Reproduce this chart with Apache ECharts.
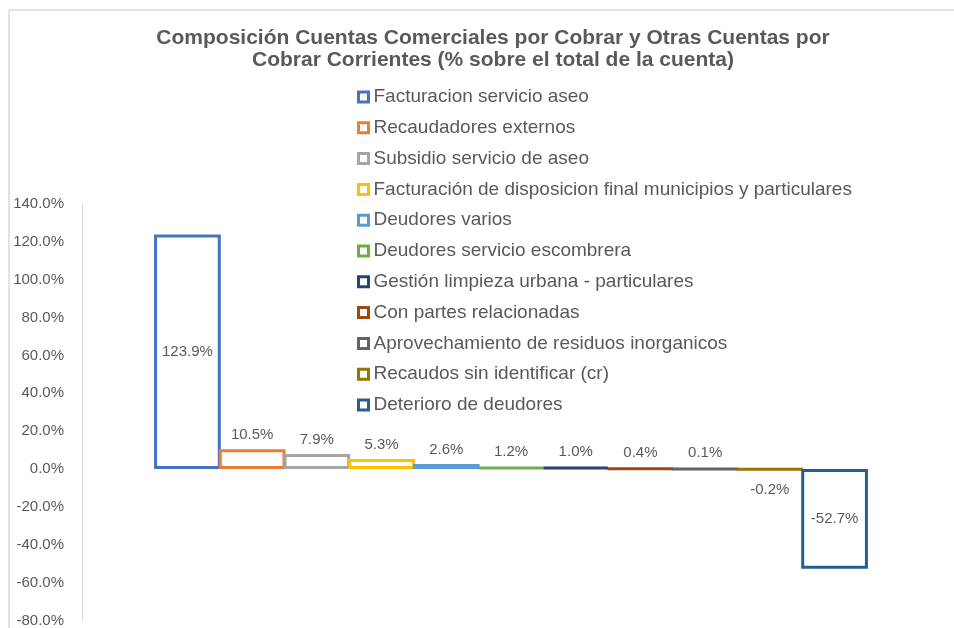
<!DOCTYPE html>
<html>
<head>
<meta charset="utf-8">
<script src="https://cdn.jsdelivr.net/npm/echarts@6/dist/echarts.min.js"></script>
<style>
  html, body { margin: 0; padding: 0; background: #fff; }
  #chart { width: 954px; height: 628px; }
</style>
</head>
<body>
<div id="chart"></div>
<script>
// nombres de cada serie (una barra por serie)
const seriesNames = [
  'Facturacion servicio aseo',
  'Recaudadores externos',
  'Subsidio servicio de aseo',
  'Facturación de disposicion final municipios y particulares',
  'Deudores varios',
  'Deudores servicio escombrera',
  'Gestión limpieza urbana - particulares',
  'Con partes relacionadas',
  'Aprovechamiento de residuos inorganicos',
  'Recaudos sin identificar (cr)',
  'Deterioro de deudores'
];
const seriesValues = [123.9, 10.5, 7.9, 5.3, 2.6, 1.2, 1.0, 0.4, 0.1, -0.2, -52.7];
const seriesColors = ['#4472C4', '#ED7D31', '#A5A5A5', '#FFC000', '#5B9BD5', '#70AD47',
  '#264478', '#9E480E', '#636363', '#997300', '#255E91'];
// etiquetas que van dentro de la barra
const insideLabels = [0, 10];
const yTicks = { min: -80, max: 140, interval: 20 };

const textColor = '#595959';
const font = 'Liberation Sans, Arial, sans-serif';

const series = seriesNames.map((name, i) => {
  const v = seriesValues[i];
  let pos = v < 0 ? 'bottom' : 'top';
  if (insideLabels.indexOf(i) >= 0) pos = 'inside';
  return {
    name,
    type: 'bar',
    barGap: '-3%',
    barCategoryGap: '16.8%',
    data: [v],
    itemStyle: {
      color: 'rgba(255,255,255,0)',
      borderColor: seriesColors[i],
      borderWidth: 3
    },
    label: {
      show: true,
      position: pos,
      distance: v < 0 ? 12 : 7,
      color: textColor,
      fontFamily: font,
      fontSize: 15,
      formatter: p => p.value.toFixed(1) + '%'
    }
  };
});

const chart = echarts.init(document.getElementById('chart'));
chart.setOption({
  animation: false,
  backgroundColor: '#fff',
  title: {
    text: 'Composición Cuentas Comerciales por Cobrar y Otras Cuentas por\nCobrar Corrientes (% sobre el total de la cuenta)',
    left: 488,
    textAlign: 'center',
    top: 22,
    textStyle: {
      color: textColor,
      fontFamily: font,
      fontSize: 21,
      fontWeight: 'bold',
      lineHeight: 22
    }
  },
  legend: {
    orient: 'vertical',
    left: 352,
    top: 82.5,
    itemGap: 11.8,
    itemWidth: 10,
    itemHeight: 10,
    icon: 'rect',
    itemStyle: { borderWidth: 3 },
    data: seriesNames,
    textStyle: {
      color: textColor,
      fontFamily: font,
      fontSize: 19
    }
  },
  graphic: [
    { type: 'line', shape: { x1: 9, y1: 10, x2: 954, y2: 10 }, style: { stroke: '#d9d9d9', lineWidth: 1.5 } },
    { type: 'line', shape: { x1: 9, y1: 10, x2: 9, y2: 628 }, style: { stroke: '#d9d9d9', lineWidth: 1.5 } }
  ],
  grid: { left: 82, right: 14, top: 204, bottom: 6, containLabel: false },
  xAxis: {
    type: 'category',
    data: [''],
    axisLine: { show: false },
    axisTick: { show: false },
    axisLabel: { show: false }
  },
  yAxis: {
    type: 'value',
    min: yTicks.min,
    max: yTicks.max,
    interval: yTicks.interval,
    axisLine: { show: true, lineStyle: { color: '#d9d9d9', width: 1 } },
    axisTick: { show: false },
    splitLine: { show: false },
    axisLabel: {
      margin: 18,
      color: textColor,
      fontFamily: font,
      fontSize: 15,
      formatter: v => v.toFixed(1) + '%'
    }
  },
  series
});
</script>
</body>
</html>
